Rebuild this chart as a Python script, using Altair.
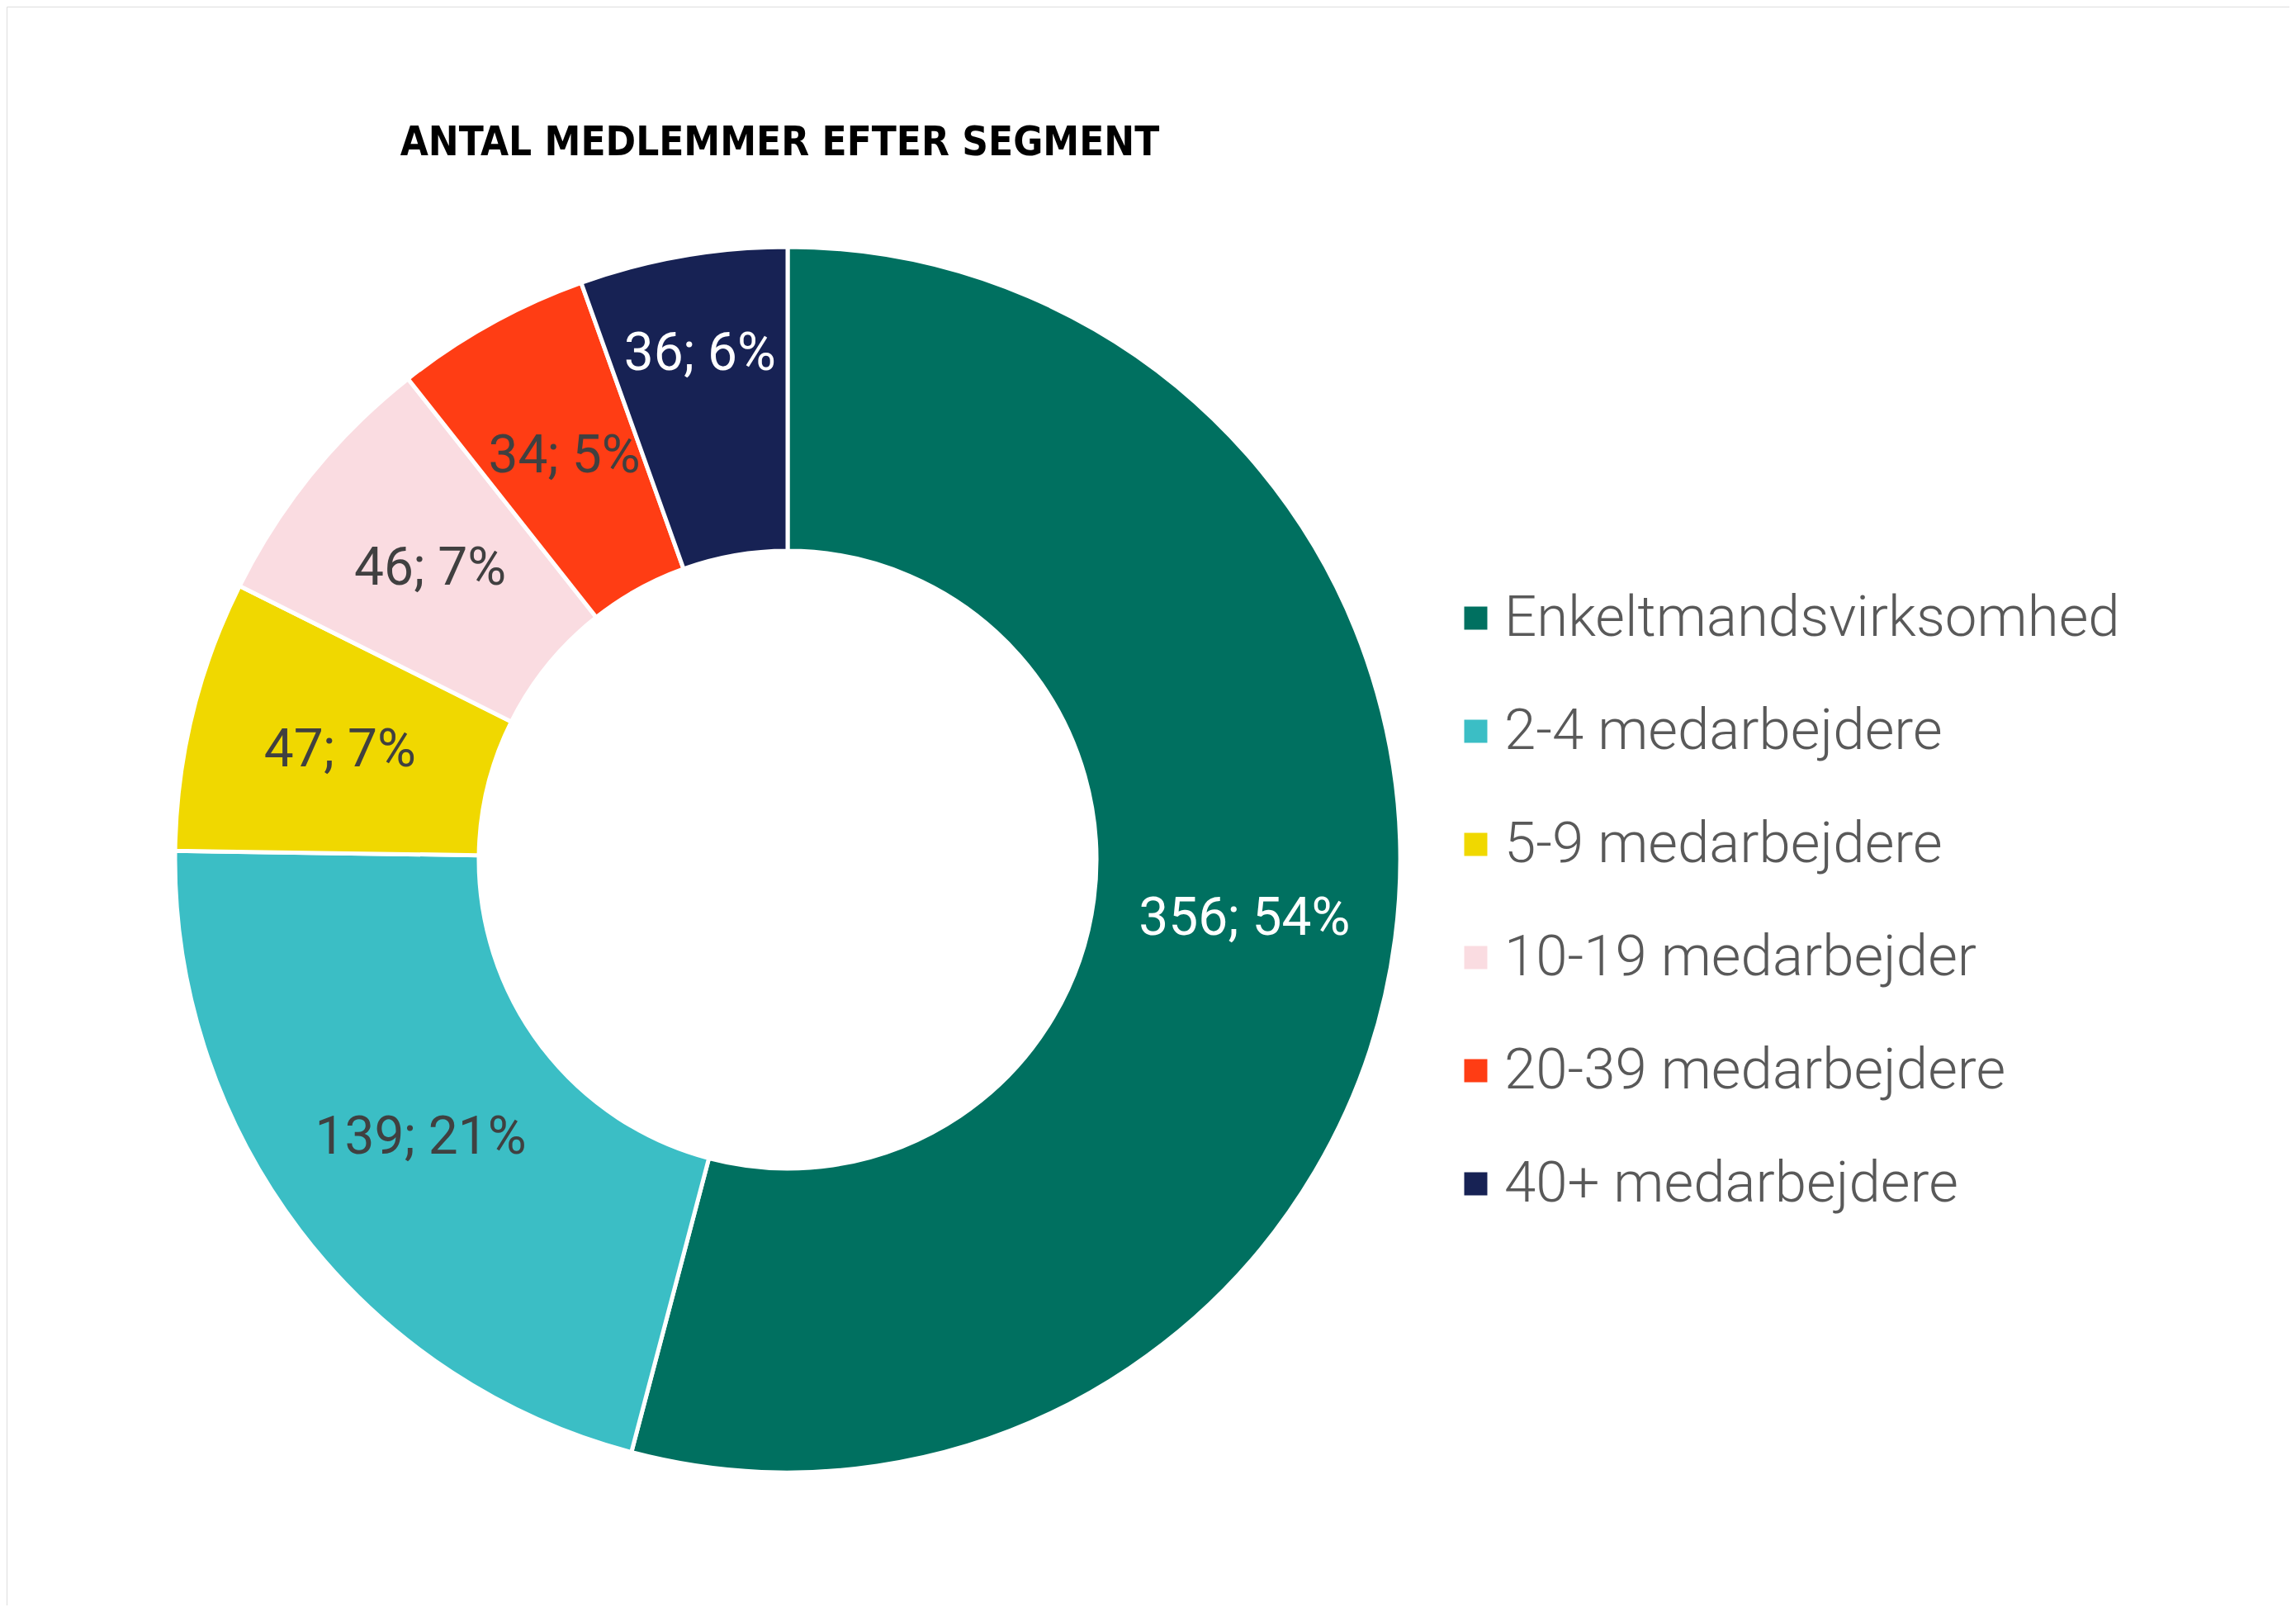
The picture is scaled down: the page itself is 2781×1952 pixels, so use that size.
import altair as alt
import pandas as pd

segments = ["Enkeltmandsvirksomhed", "2-4 medarbejdere", "5-9 medarbejdere",
            "10-19 medarbejder", "20-39 medarbejdere", "40+ medarbejdere"]
values = [356, 139, 47, 46, 34, 36]
percents = [54, 21, 7, 7, 5, 6]
colors = ["#007060", "#3BBEC5", "#F0D800", "#FADCE1", "#FF3D14", "#172254"]
label_colors = ["#FFFFFF", "#404040", "#404040", "#404040", "#404040", "#FFFFFF"]

df = pd.DataFrame({
    "seg": segments,
    "value": values,
    "idx": list(range(len(segments))),
    "label": [f"{v}; {p}%" for v, p in zip(values, percents)],
    "lcolor": label_colors,
})
df["lab_in"] = [l if s != "40+ medarbejdere" else "" for l, s in zip(df["label"], df["seg"])]
df["lab_out"] = [l if s == "40+ medarbejdere" else "" for l, s in zip(df["label"], df["seg"])]

CX, CY = 946, 1033

base = alt.Chart(df).encode(
    theta=alt.Theta("value:Q", stack=True),
    order=alt.Order("idx:Q"),
    x=alt.value(CX),
    y=alt.value(CY),
)

arcs = base.mark_arc(outerRadius=742, innerRadius=374, stroke="white", strokeWidth=5).encode(
    color=alt.Color("seg:N", scale=alt.Scale(domain=segments, range=colors),
                    sort=segments,
                    legend=alt.Legend(title=None, orient="none", legendX=1745, legendY=706,
                                      symbolType="square", symbolSize=784, symbolStrokeWidth=0,
                                      labelFont="Roboto", labelFontWeight=300, labelFontSize=69,
                                      labelColor="#595959", labelOffset=0, rowPadding=67,
                                      labelLimit=1000, padding=0)),
)

txt_in = base.mark_text(radius=558, font="Roboto", fontSize=64, baseline="middle", align="center").encode(
    text=alt.Text("lab_in:N"),
    color=alt.Color("lcolor:N", scale=None),
)
txt_out = base.mark_text(radius=621, font="Roboto", fontSize=64, baseline="middle", align="center").encode(
    text=alt.Text("lab_out:N"),
    color=alt.Color("lcolor:N", scale=None),
)

chart = alt.layer(arcs, txt_in, txt_out).properties(
    width=2765, height=1936,
    padding=0,
    autosize=alt.AutoSizeParams(type="none"),
    title=alt.TitleParams("ANTAL MEDLEMMER EFTER SEGMENT", anchor="middle", dx=-446, dy=229,
                          offset=0, baseline="alphabetic",
                          font="DejaVu Sans Condensed, Roboto Condensed, Roboto, sans-serif",
                          fontWeight="bold", fontSize=49,
                          color="#000000"),
).configure_view(stroke="#D9D9D9", strokeWidth=3).configure(background="white")

chart.save("out.html", embed_options={"renderer": "svg", "actions": False})
